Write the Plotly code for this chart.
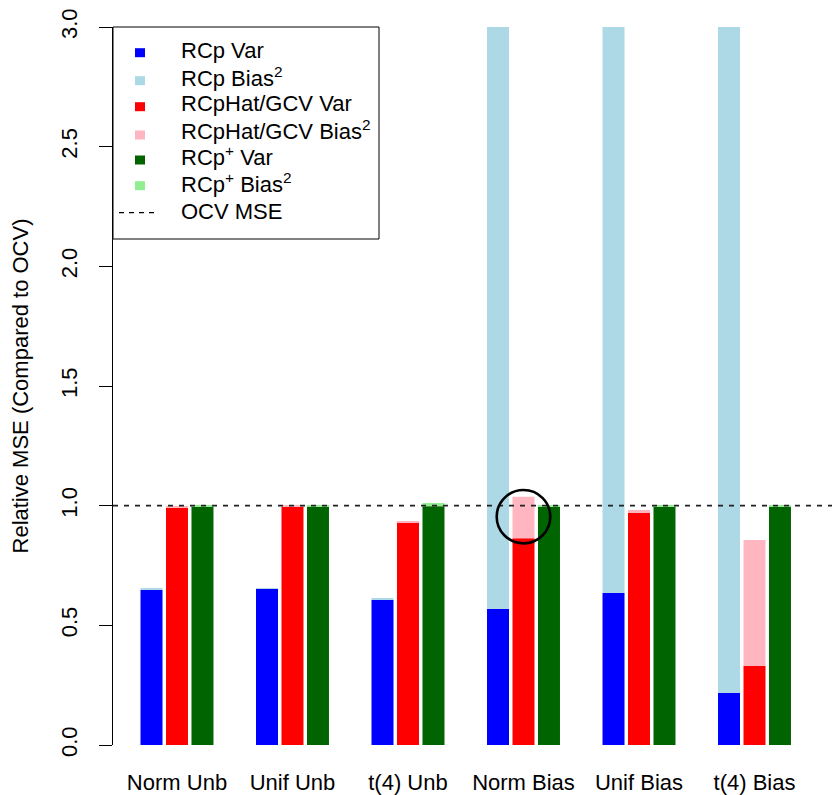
import plotly.graph_objects as go

# ---------------- data ----------------
categories = ["Norm Unb", "Unif Unb", "t(4) Unb", "Norm Bias", "Unif Bias", "t(4) Bias"]
rcp_var = [0.648, 0.652, 0.606, 0.568, 0.635, 0.217]
rcp_bias2 = [0.004, 0.004, 0.008, 2.90, 2.90, 3.10]
rcphat_var = [0.992, 0.996, 0.928, 0.864, 0.970, 0.330]
rcphat_bias2 = [0.003, 0.004, 0.008, 0.173, 0.012, 0.527]
rcpplus_var = [0.998, 0.998, 0.998, 0.998, 0.998, 0.998]
rcpplus_bias2 = [0.004, 0.003, 0.013, 0.003, 0.003, 0.003]
ocv_mse = 1.0
highlight_category = 3      # index of "Norm Bias"
highlight_value = 0.954
y_ticks = [0.0, 0.5, 1.0, 1.5, 2.0, 2.5, 3.0]
legend_labels = ["RCp Var", "RCp Bias<sup>2</sup>", "RCpHat/GCV Var",
                 "RCpHat/GCV Bias<sup>2</sup>", "RCp<sup>+</sup> Var",
                 "RCp<sup>+</sup> Bias<sup>2</sup>", "OCV MSE"]

# ---------------- style ----------------
FONT = "Liberation Sans, Arial, Helvetica, sans-serif"
FS = 22
C_BLUE, C_LBLUE = "#0000FF", "#ADD8E6"
C_RED, C_PINK = "#FF0000", "#FFB6C1"
C_DGREEN, C_LGREEN = "#006400", "#90EE90"

W, H = 832, 795
ML, MR, MT, MB = 113, 0, 27, 50
PW, PH = W - ML - MR, H - MT - MB


def px(x):
    """pixel x -> paper fraction"""
    return (x - ML) / PW


def py(y):
    """pixel y -> paper fraction"""
    return (H - MB - y) / PH


fig = go.Figure()
series = [
    ("g1", rcp_var, None, C_BLUE),
    ("g1", rcp_bias2, rcp_var, C_LBLUE),
    ("g2", rcphat_var, None, C_RED),
    ("g2", rcphat_bias2, rcphat_var, C_PINK),
    ("g3", rcpplus_var, None, C_DGREEN),
    ("g3", rcpplus_bias2, rcpplus_var, C_LGREEN),
]
for grp, vals, base, col in series:
    fig.add_trace(go.Bar(
        x=categories, y=vals, base=base, offsetgroup=grp,
        marker=dict(color=col, line=dict(width=0)),
        showlegend=False, hoverinfo="skip"))

# OCV reference line
fig.add_shape(type="line", xref="paper", yref="y", x0=0, x1=1,
              y0=ocv_mse, y1=ocv_mse,
              line=dict(color="#222222", width=1.6, dash="5px,6px"))

# highlight circle
rx, ry = 0.232, 0.1115
fig.add_shape(type="circle", xref="x", yref="y",
              x0=highlight_category - rx, x1=highlight_category + rx,
              y0=highlight_value - ry, y1=highlight_value + ry,
              line=dict(color="black", width=2.6))

# ---------------- manual legend ----------------
fig.add_shape(type="rect", xref="paper", yref="paper",
              x0=px(113), x1=px(379), y0=py(239), y1=py(27),
              line=dict(color="black", width=1), fillcolor="white", layer="above")
legend_cols = [C_BLUE, C_LBLUE, C_RED, C_PINK, C_DGREEN, C_LGREEN]
sq_centers = [52.7, 80.7, 106.7, 135, 160, 185.7]
baselines = [59, 86.7, 111.7, 140, 165.7, 193.3, 220]
for c, yc in zip(legend_cols, sq_centers):
    fig.add_shape(type="rect", xref="paper", yref="paper",
                  x0=px(135), x1=px(145), y0=py(yc + 4.5), y1=py(yc - 4.5),
                  line=dict(width=0), fillcolor=c, layer="above")
fig.add_shape(type="line", xref="paper", yref="paper",
              x0=px(119), x1=px(157), y0=py(212.7), y1=py(212.7),
              line=dict(color="black", width=1.2, dash="5px,5px"), layer="above")
for lab, b in zip(legend_labels, baselines):
    fig.add_annotation(xref="paper", yref="paper", x=px(179), y=py(b + 6),
                       text=lab, showarrow=False, xanchor="left", yanchor="bottom",
                       font=dict(family=FONT, size=FS, color="black"))

fig.update_layout(
    width=W, height=H,
    margin=dict(l=ML, r=MR, t=MT, b=MB, pad=0, autoexpand=False),
    paper_bgcolor="white", plot_bgcolor="white",
    barmode="group", bargap=0.338, bargroupgap=0.137,
    font=dict(family=FONT, color="black"),
    xaxis=dict(type="category", range=[-0.554, 5.671], showline=False,
               showgrid=False, zeroline=False, ticks="", automargin=False,
               tickfont=dict(size=FS), ticklabelstandoff=22),
    yaxis=dict(range=[0, 3], showgrid=False, zeroline=False, automargin=False,
               showline=True, linecolor="black", linewidth=1,
               ticks="outside", ticklen=13, tickwidth=1, tickcolor="black",
               tickvals=y_ticks, ticktext=[f"{v:.1f}" for v in y_ticks],
               tickangle=-90, tickfont=dict(size=FS),
               ticklabelstandoff=13,
               title=dict(text="Relative MSE (Compared to OCV)",
                          font=dict(size=FS), standoff=22)),
)

fig.write_html(
    "out.html",
    config={"displayModeBar": False},
    post_script=(
        "document.body.style.margin='0';document.body.style.overflow='hidden';"
        "var d=document.getElementById('{plot_id}');"
        "d.style.position='fixed';d.style.left='0px';d.style.top='0px';"
    ),
)
